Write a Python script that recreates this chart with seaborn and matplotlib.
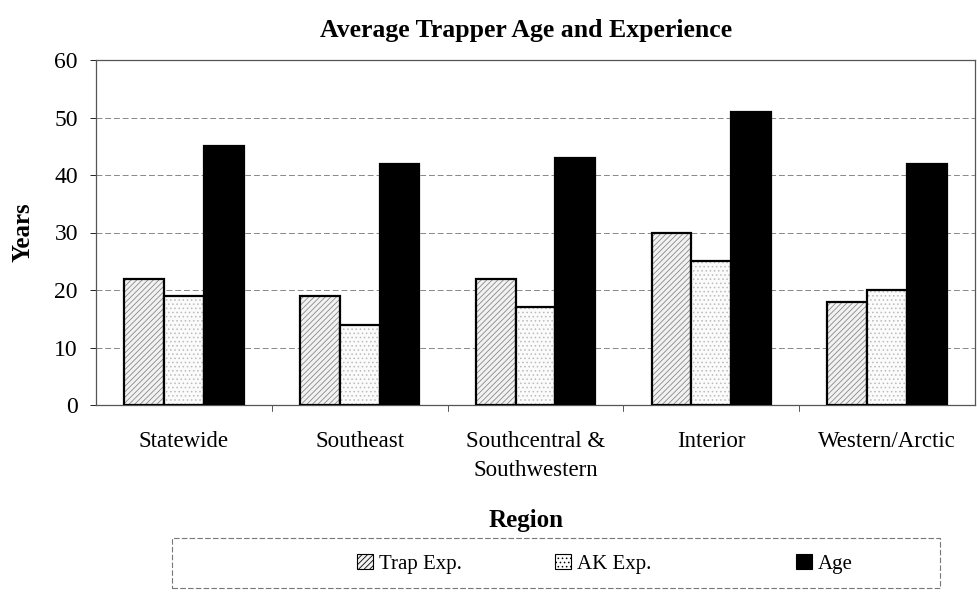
import matplotlib
matplotlib.use("Agg")
import matplotlib.pyplot as plt
import seaborn as sns
import pandas as pd
from matplotlib.patches import Rectangle, Patch

regions = ["Statewide", "Southeast", "Southcentral &\nSouthwestern", "Interior", "Western/Arctic"]
series = ["Trap Exp.", "AK Exp.", "Age"]
trap_exp = [22, 19, 22, 30, 18]
ak_exp = [19, 14, 17, 25, 20]
age = [45, 42, 43, 51, 42]
yticks = [0, 10, 20, 30, 40, 50, 60]

df = pd.DataFrame({
    "Region": regions * 3,
    "Series": [series[0]] * 5 + [series[1]] * 5 + [series[2]] * 5,
    "Years": trap_exp + ak_exp + age,
})

sns.set_theme(style="white")
plt.rcParams["font.family"] = ["Liberation Serif", "DejaVu Serif"]
plt.rcParams["hatch.linewidth"] = 0.6
plt.rcParams["text.color"] = "black"
plt.rcParams["xtick.color"] = "black"
plt.rcParams["ytick.color"] = "black"
plt.rcParams["axes.labelcolor"] = "black"

fig = plt.figure(figsize=(9.77, 5.96), dpi=100)
ax = fig.add_axes([96/977, 1-405/596, (975-96)/977, (405-60)/596])

fills = {"Trap Exp.": "#f2f2f2", "AK Exp.": "#fbfbfb", "Age": "#000000"}
hatches = {"Trap Exp.": "//////", "AK Exp.": "....", "Age": ""}
sns.barplot(data=df, x="Region", y="Years", hue="Series", hue_order=series,
            palette=fills, width=0.68, gap=0, ax=ax, legend=False,
            edgecolor="black", linewidth=1.6, zorder=3)
for cont, s in zip(ax.containers, series):
    for p in cont:
        p.set_hatch(hatches[s])
        if s == "Trap Exp.":
            p._hatch_color = matplotlib.colors.to_rgba("#888888")
        elif s == "AK Exp.":
            p._hatch_color = matplotlib.colors.to_rgba("#bbbbbb")

ax.set_ylim(0, 60)
ax.set_xlim(-0.5, 4.5)
ax.set_yticks(yticks)
ax.set_yticklabels([str(v) for v in yticks], fontsize=17)
for lab in ax.get_xticklabels():
    lab.set_linespacing(1.45)
ax.tick_params(axis="x", labelsize=16.5, length=0, pad=19)
ax.tick_params(axis="y", length=4, width=0.6, direction="out", left=True, pad=9)
ax.yaxis.grid(True, color="#888888", linestyle=(0, (6, 3)), linewidth=0.7, zorder=0)
ax.set_axisbelow(True)
for sp in ax.spines.values():
    sp.set_color("#555555")
    sp.set_linewidth(0.9)
for xv in [0.5, 1.5, 2.5, 3.5]:
    ax.plot([xv, xv], [0, -1.0], color="#555555", lw=0.7, clip_on=False)

ax.set_xlabel("")
ax.set_ylabel("Years", fontsize=18, fontweight="bold", labelpad=14)
fig.text(526/977, 1-31/596, "Average Trapper Age and Experience", ha="center", va="center",
         fontsize=18.5, fontweight="bold")
fig.text(526/977, 1-521/596, "Region", ha="center", va="center", fontsize=18, fontweight="bold")

fig.patches.append(Rectangle((172/977, 1-588/596), (940-172)/977, (588-538)/596,
                             transform=fig.transFigure, fill=False, edgecolor="#777777",
                             linewidth=0.8, linestyle=(0, (5, 2))))
pos = [(357, "Trap Exp."), (555, "AK Exp."), (796, "Age")]
for x, s in pos:
    h = Patch(facecolor=fills[s], edgecolor="black", hatch=hatches[s], linewidth=0.8)
    fig.legend(handles=[h], labels=[s], loc="center left", bbox_to_anchor=(x/977, 1-564/596),
               frameon=False, fontsize=15, handlelength=0.75, handleheight=0.75,
               handletextpad=0.3, borderpad=0, borderaxespad=0)

fig.savefig("out.png", dpi=100)
